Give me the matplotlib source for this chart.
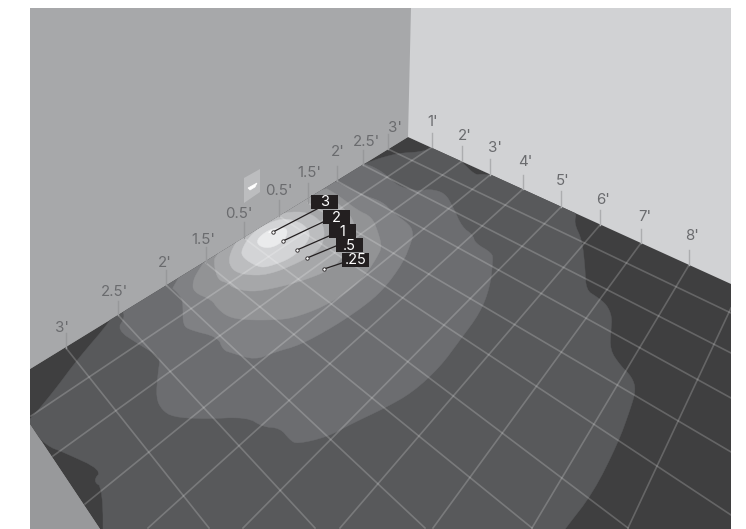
import matplotlib
matplotlib.use('Agg')
import matplotlib.pyplot as plt
from matplotlib.patches import Polygon

plt.rcParams['font.family'] = ['Inter', 'DejaVu Sans']

# everything in pixel coordinates
left_wall = [(30, 8), (412, 8), (412, 137), (408, 137), (30, 369)]
right_wall = [(411, 8), (731, 8), (731, 285), (408, 137)]
low_wall = [(30, 424), (100, 529), (30, 529)]
floor = [(408, 137), (731, 284), (731, 529), (100, 529), (30, 424), (30, 369)]

level_1 = [(113, 318), (77, 360), (57, 387), (40, 408), (31, 418), (25, 424),
           (47, 446), (63, 452), (102, 470), (93, 481), (103, 488), (103, 560),
           (542, 560), (565, 529), (593, 493), (618, 443), (630, 410), (636, 390), (632, 377),
           (620, 365), (610, 350), (611, 330), (612, 317), (607, 305), (597, 297),
           (586, 290), (585, 267), (582, 240), (574, 223), (577, 212), (560, 200),
           (498, 176), (482, 174), (475, 175), (460, 160), (440, 145), (432, 148),
           (420, 152), (400, 153), (380, 158), (367, 163), (340, 170), (120, 300)]
level_2 = [(122, 310), (125, 317), (117, 330), (140, 345), (157, 355), (160, 360),
           (158, 373), (156, 398), (162, 410), (173, 417), (203, 419), (247, 417),
           (263, 427), (280, 428), (290, 440), (297, 444), (327, 437), (353, 423),
           (385, 408), (413, 392), (440, 367), (460, 340), (480, 313), (490, 287),
           (493, 260), (492, 253), (475, 243), (473, 235), (462, 227), (453, 207),
           (445, 193), (430, 189), (420, 191), (403, 188), (393, 182), (383, 172),
           (365, 163), (300, 150)]
level_3 = [(167, 283), (182, 297), (183, 307), (183, 325), (190, 330), (218, 337),
           (223, 350), (232, 353), (255, 360), (275, 352), (300, 345), (333, 327),
           (363, 307), (383, 290), (403, 263), (412, 240), (413, 233), (410, 225),
           (392, 212), (383, 202), (363, 195), (337, 182), (300, 170)]
level_4 = [(207, 258), (200, 268), (193, 280), (193, 292), (212, 300), (217, 308),
           (228, 317), (245, 320), (275, 320), (293, 318), (323, 307), (350, 290),
           (367, 273), (377, 257), (382, 247), (378, 232), (372, 217), (357, 210),
           (338, 195), (320, 185)]
level_5 = [(215, 255), (214, 265), (218, 280), (228, 283), (233, 288), (252, 292),
           (275, 288), (302, 281), (330, 270), (343, 257), (356, 237), (353, 218),
           (340, 205), (322, 190), (250, 225)]
level_6 = [(228, 258), (232, 270), (245, 275), (268, 275), (298, 263), (320, 250),
           (325, 235), (322, 222), (308, 212), (285, 212), (258, 222), (238, 238)]
level_7 = [(241, 250), (243, 258), (258, 267), (268, 267), (292, 258), (308, 242),
           (310, 232), (302, 223), (285, 218), (268, 223), (252, 233)]
level_8 = [(256, 240), (260, 247), (272, 248), (285, 240), (288, 230), (282, 227),
           (268, 230)]
level_9 = [(268, 233), (273, 232), (275, 230), (270, 231)]
levels = [level_1, level_2, level_3, level_4, level_5, level_6, level_7, level_8, level_9]
level_colors = ['#58595b', '#6c6d70', '#808184', '#929395', '#a6a7a9',
                '#bcbdbf', '#d3d4d6', '#eaebec', '#ffffff']

grid_down_left = [((432, 147), (31, 416)), ((462, 161), (53, 456)), ((490, 175), (85, 504)),
                  ((523, 189), (148, 528)), ((561, 207), (243, 528)), ((600, 225), (340, 528)),
                  ((641, 243), (433, 528)), ((689, 265), (532, 528)), ((731, 308), (628, 528))]
grid_down_right = [((388, 149), (731, 313)), ((363, 165), (731, 353)), ((337, 181), (731, 398)),
                   ((308, 203), (731, 452)), ((279, 216), (731, 515)), ((244, 238), (628, 528)),
                   ((206, 263), (532, 528)), ((166, 285), (425, 528)), ((118, 315), (315, 528)),
                   ((66, 348), (209, 528))]

left_ticks = [(66, 333, 348, "3'", 62, 328), (118, 301, 315, "2.5'", 115, 292),
              (166, 270, 285, "2'", 165, 263), (206, 247, 263, "1.5'", 203, 240),
              (244, 222, 238, "0.5'", 239, 214), (279, 200, 216, "0.5'", 279, 191),
              (308, 183, 203, "1.5'", 309, 173), (337, 166, 181, "2'", 338, 152),
              (363, 150, 165, "2.5'", 366, 142), (388, 134, 149, "3'", 395, 128)]
right_ticks = [(432, 133, 147, "1'", 433, 122), (462, 146, 161, "2'", 465, 136),
               (490, 159, 175, "3'", 495, 148), (523, 175, 189, "4'", 525, 162),
               (561, 191, 207, "5'", 563, 181), (600, 210, 225, "6'", 603, 200),
               (641, 229, 243, "7'", 645, 217), (689, 250, 265, "8'", 692, 236)]

callout_text = ['3', '2', '1', '.5', '.25']
callout_box = [(311, 195), (323, 210), (329, 224), (336, 238), (342, 253)]
callout_point = [(273, 232), (283, 241), (297, 250), (307, 258), (324, 269)]
callout_start = [(317, 209), (323, 222), (329, 236), (336, 246), (342, 263)]

swatch = [(244, 178), (260, 169), (260, 192), (244, 203)]
swatch_spot = [(248, 188), (257, 183), (255, 187), (250, 190)]


def round_corners(pts, n=2):
    # corner cutting, the contours in the picture have soft outlines
    for _ in range(n):
        new = []
        for i, (x0, y0) in enumerate(pts):
            x1, y1 = pts[(i + 1) % len(pts)]
            new.append((.75*x0 + .25*x1, .75*y0 + .25*y1))
            new.append((.25*x0 + .75*x1, .25*y0 + .75*y1))
        pts = new
    return pts


fig = plt.figure(figsize=(7.46, 5.29), dpi=100)
ax = fig.add_axes([0, 0, 1, 1])
ax.set_xlim(0, 746)
ax.set_ylim(529, 0)
ax.axis('off')

ax.add_patch(Polygon(left_wall, fc='#a7a8aa', ec='none'))
ax.add_patch(Polygon(right_wall, fc='#d1d2d4', ec='none'))
ax.add_patch(Polygon(low_wall, fc='#98999b', ec='none'))
floor_patch = Polygon(floor, fc='#3f3f40', ec='none')
ax.add_patch(floor_patch)

for pts, col in zip(levels, level_colors):
    p = Polygon(round_corners(pts), fc=col, ec=col, lw=.3)
    ax.add_patch(p)
    p.set_clip_path(floor_patch)

for a, b in grid_down_left + grid_down_right:
    l, = ax.plot([a[0], b[0]], [a[1], b[1]], color='white', alpha=.2, lw=1.2)
    l.set_clip_path(floor_patch)

for x, y0, y1, txt, tx, ty in left_ticks:
    ax.plot([x, x], [y0, y1], color='#97989a', lw=1)
    ax.text(tx, ty, txt, color='#6a6b6e', fontsize=10.8, ha='center', va='center')
for x, y0, y1, txt, tx, ty in right_ticks:
    ax.plot([x, x], [y0, y1], color='#acadaf', lw=1)
    ax.text(tx, ty, txt, color='#6a6b6e', fontsize=10.8, ha='center', va='center')

ax.add_patch(Polygon(swatch, fc='#bcbdbf', ec='none'))
ax.add_patch(Polygon(swatch_spot, fc='white', ec='white', lw=.5))

for txt, box, pt, st in zip(callout_text, callout_box, callout_point, callout_start):
    ax.plot([pt[0], st[0]], [pt[1], st[1]], color='#231f20', lw=.9, zorder=4)
    ax.scatter([pt[0]], [pt[1]], s=6, fc='white', ec='#231f20', lw=.6, zorder=5)
    ax.add_patch(Polygon([box, (box[0]+26.5, box[1]), (box[0]+26.5, box[1]+14), (box[0], box[1]+14)],
                         fc='#231f20', ec='none', zorder=6))
    ax.text(box[0]+13.5, box[1]+7.5, txt, color='white', fontsize=10.5, ha='center', va='center', zorder=7)

fig.savefig('out.png', dpi=100, facecolor='white')
